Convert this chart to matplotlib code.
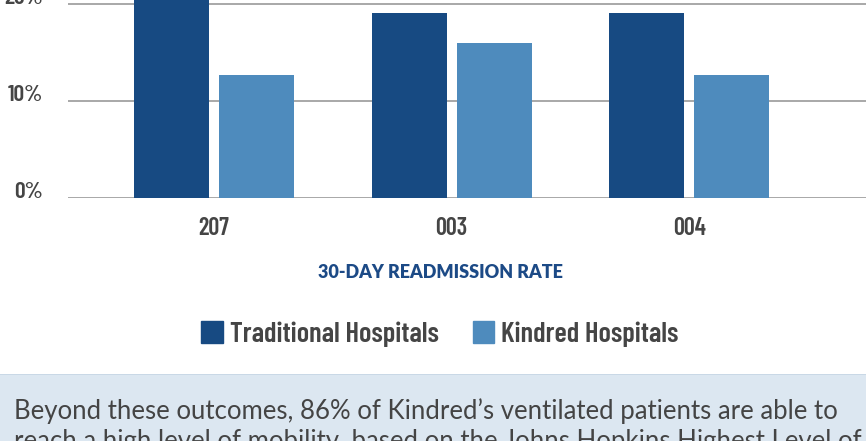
import matplotlib.pyplot as plt
from matplotlib.patches import Rectangle, Patch

# datos
groups = ['207', '003', '004']
traditional = [24.0, 19.1, 19.1]
kindred = [12.7, 16.0, 12.7]
yticks = [0, 10, 20]
ytick_labels = ['0%', '10%', '20%']
series_names = ['Traditional Hospitals', 'Kindred Hospitals']

dark = '#174a82'
light = '#4e8bbd'
grey_txt = '#454545'
narrow = ['Barlow Condensed', 'DejaVu Sans']
body_font = ['Lato', 'DejaVu Sans']

W, H = 866, 441
fig = plt.figure(figsize=(W / 100, H / 100), dpi=100)

# ejes: 0% en y=198px, 10% cada 97px, parte superior recortada
bottom = 1 - 198 / H
ax = fig.add_axes([68 / W, bottom, 1 - 68 / W, 291 / H])
ax.set_ylim(0, 30)
ax.set_xlim(-0.615, 2.745)

x = list(range(len(groups)))
bw = 0.316
off = 0.179
ax.bar([i - off for i in x], traditional, bw, color=dark, zorder=3)
ax.bar([i + off for i in x], kindred, bw, color=light, zorder=3)

for y in yticks:
    ax.axhline(y, color='#9a9a9a', lw=1.2, zorder=1)

for s in ax.spines.values():
    s.set_visible(False)
ax.tick_params(length=0)
ax.set_yticks(yticks)
ax.set_yticklabels(ytick_labels, family=narrow, weight=600, fontsize=17,
                   color=grey_txt, va='baseline')
ax.tick_params(axis='y', pad=18)
ax.set_xticks(x)
ax.set_xticklabels(groups, family=narrow, weight=600, fontsize=17.5, color=grey_txt)
ax.tick_params(axis='x', pad=14)

fig.text(440 / W, 1 - 273 / H, '30-DAY READMISSION RATE', ha='center', va='center',
         family=body_font, weight='heavy', fontsize=13, color='#1c4a86')

handles = [Patch(color=dark), Patch(color=light)]
fig.legend(handles, series_names, loc='center', bbox_to_anchor=(440 / W, 1 - 334 / H),
           ncol=2, frameon=False, handlelength=0.75, handleheight=0.8,
           handletextpad=0.25, columnspacing=1.2,
           prop={'family': narrow, 'weight': 600, 'size': 20.5}, labelcolor=grey_txt)

# caja inferior
fig.patches.append(Rectangle((0, 0), 1, (H - 374) / H, transform=fig.transFigure,
                             facecolor='#dce7f1', edgecolor='none', zorder=0))
fig.patches.append(Rectangle((0, (H - 375) / H), 1, 1.5 / H, transform=fig.transFigure,
                             facecolor='#c9d8e6', edgecolor='none', zorder=0))
body = ['Beyond these outcomes, 86% of Kindred\u2019s ventilated patients are able to',
        'reach a high level of mobility, based on the Johns Hopkins Highest Level of']
fig.text(14 / W, (H - 419) / H, body[0], ha='left', va='baseline',
         family=body_font, fontsize=18.5, color='#444444')
fig.text(14 / W, (H - 449) / H, body[1], ha='left', va='baseline',
         family=body_font, fontsize=18.5, color='#444444')

fig.savefig('out.png', dpi=100)
